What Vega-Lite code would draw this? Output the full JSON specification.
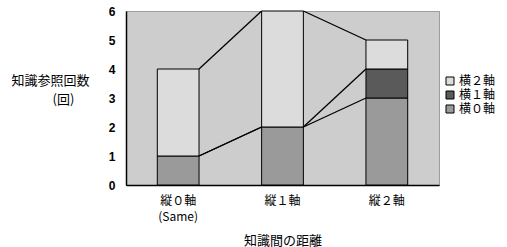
{
  "$schema": "https://vega.github.io/schema/vega-lite/v6.json",
  "autosize": "none",
  "width": 313,
  "height": 174,
  "padding": {"left": 126, "top": 11, "right": 68, "bottom": 62},
  "background": "white",
  "config": {
    "view": {"fill": "#cdcdcd", "stroke": "#555", "strokeDash": [1, 1], "strokeWidth": 1},
    "font": "Noto Sans CJK JP",
    "axisY": {
      "labelOverlap": false,
      "grid": false,
      "ticks": false,
      "labelPadding": 11,
      "labelFont": "Liberation Sans",
      "labelFontWeight": "bold",
      "labelFontSize": 12,
      "labelColor": "black",
      "domainColor": "black",
      "domainWidth": 1.5,
      "titleAngle": 0,
      "titleAlign": "center",
      "titleBaseline": "top",
      "titleX": -76,
      "titleY": 63,
      "titleLineHeight": 19,
      "titleFontSize": 13,
      "titleFontWeight": "normal",
      "titleColor": "black"
    }
  },
  "datasets": {
    "bars": [
      {"distance": "縦０軸", "series": "横０軸", "count": 1},
      {"distance": "縦０軸", "series": "横２軸", "count": 3},
      {"distance": "縦１軸", "series": "横０軸", "count": 2},
      {"distance": "縦１軸", "series": "横２軸", "count": 4},
      {"distance": "縦２軸", "series": "横０軸", "count": 3},
      {"distance": "縦２軸", "series": "横１軸", "count": 1},
      {"distance": "縦２軸", "series": "横２軸", "count": 1}
    ],
    "lines": [
      {"series": "横２軸", "from": "縦０軸", "to": "縦１軸", "y1": 4, "y2": 6},
      {"series": "横２軸", "from": "縦１軸", "to": "縦２軸", "y1": 6, "y2": 5},
      {"series": "横１軸", "from": "縦０軸", "to": "縦１軸", "y1": 1, "y2": 2},
      {"series": "横１軸", "from": "縦１軸", "to": "縦２軸", "y1": 2, "y2": 4},
      {"series": "横０軸", "from": "縦０軸", "to": "縦１軸", "y1": 1, "y2": 2},
      {"series": "横０軸", "from": "縦１軸", "to": "縦２軸", "y1": 2, "y2": 3}
    ]
  },
  "layer": [
    {
      "data": {"name": "bars"},
      "mark": {"type": "bar", "stroke": "black", "strokeWidth": 1},
      "encoding": {
        "x": {
          "field": "distance",
          "type": "nominal",
          "sort": ["縦０軸", "縦１軸", "縦２軸"],
          "scale": {"paddingInner": 0.6, "paddingOuter": 0.3},
          "axis": {
            "title": "知識間の距離",
            "titleFontSize": 13,
            "titleFontWeight": "normal",
            "titleColor": "black",
            "titleBaseline": "top",
            "titleY": 49,
            "labelAngle": 0,
            "labelFontSize": 12,
            "labelColor": "black",
            "labelPadding": 10,
            "labelLineHeight": 16,
            "labelExpr": "datum.value == '縦０軸' ? ['縦０軸', '(Same)'] : datum.value",
            "ticks": false,
            "domainColor": "black",
            "domainWidth": 1.5
          }
        },
        "y": {
          "field": "count",
          "type": "quantitative",
          "stack": "zero",
          "scale": {"domain": [0, 6], "nice": false},
          "axis": {
            "values": [0, 1, 2, 3, 4, 5, 6],
            "title": ["知識参照回数", "\u200b\u3000\u3000(回)"]
          }
        },
        "color": {
          "field": "series",
          "type": "nominal",
          "scale": {
            "domain": ["横２軸", "横１軸", "横０軸"],
            "range": ["#dcdcdc", "#5a5a5a", "#9a9a9a"]
          },
          "legend": {
            "title": null,
            "orient": "none",
            "legendX": 318,
            "legendY": 64,
            "symbolType": "square",
            "symbolSize": 64,
            "symbolStrokeColor": "black",
            "symbolStrokeWidth": 1,
            "symbolOpacity": 1,
            "labelFontSize": 12,
            "labelColor": "black",
            "labelOffset": 3,
            "rowPadding": 2
          }
        },
        "order": {"field": "series", "sort": "ascending"}
      }
    },
    {
      "data": {"name": "lines"},
      "mark": {"type": "rule", "color": "black", "strokeWidth": 1.3},
      "encoding": {
        "x": {"field": "from", "type": "nominal", "bandPosition": 1, "sort": ["縦０軸", "縦１軸", "縦２軸"]},
        "x2": {"field": "to", "bandPosition": 0},
        "y": {
          "field": "y1",
          "type": "quantitative",
          "axis": {
            "values": [0, 1, 2, 3, 4, 5, 6],
            "title": ["知識参照回数", "\u200b\u3000\u3000(回)"]
          }
        },
        "y2": {"field": "y2"}
      }
    }
  ]
}
